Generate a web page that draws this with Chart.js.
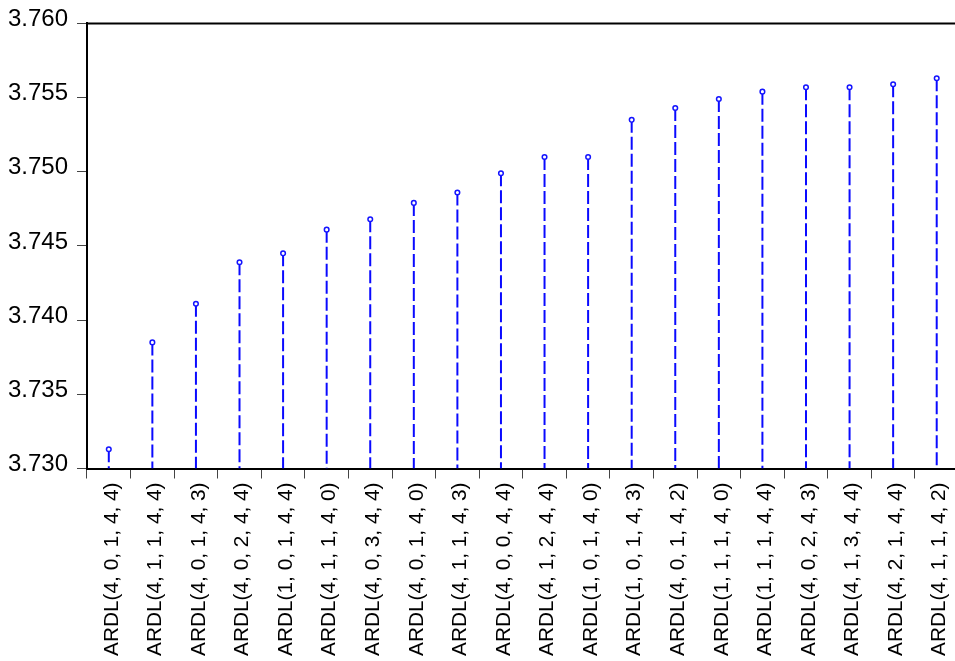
<!DOCTYPE html>
<html><head><meta charset="utf-8">
<script src="https://cdn.jsdelivr.net/npm/chart.js@4/dist/chart.umd.min.js"></script>
<style>html,body{margin:0;padding:0;background:#fff;overflow:hidden;width:955px;height:661px}#wrap{width:964px;height:661px;position:relative}</style>
</head><body><div id="wrap"><canvas id="c"></canvas></div>
<script>
const categories = [
  "ARDL(4, 0, 1, 4, 4)", "ARDL(4, 1, 1, 4, 4)", "ARDL(4, 0, 1, 4, 3)", "ARDL(4, 0, 2, 4, 4)",
  "ARDL(1, 0, 1, 4, 4)", "ARDL(4, 1, 1, 4, 0)", "ARDL(4, 0, 3, 4, 4)", "ARDL(4, 0, 1, 4, 0)",
  "ARDL(4, 1, 1, 4, 3)", "ARDL(4, 0, 0, 4, 4)", "ARDL(4, 1, 2, 4, 4)", "ARDL(1, 0, 1, 4, 0)",
  "ARDL(1, 0, 1, 4, 3)", "ARDL(4, 0, 1, 4, 2)", "ARDL(1, 1, 1, 4, 0)", "ARDL(1, 1, 1, 4, 4)",
  "ARDL(4, 0, 2, 4, 3)", "ARDL(4, 1, 3, 4, 4)", "ARDL(4, 2, 1, 4, 4)", "ARDL(4, 1, 1, 4, 2)"
];
const criterionValues = [
  3.7313, 3.7385, 3.7411, 3.7439, 3.7445, 3.7461, 3.7468, 3.7479, 3.7486, 3.7499,
  3.7510, 3.7510, 3.7535, 3.7543, 3.7549, 3.7554, 3.7557, 3.7557, 3.7559, 3.7563
];
const yMin = 3.730;
const yMax = 3.760;
const yStep = 0.005;

const stemData = [];
categories.forEach((c, i) => {
  stemData.push({x: c, y: criterionValues[i]}, {x: c, y: yMin}, {x: c, y: null});
});
const pointData = categories.map((c, i) => ({x: c, y: criterionValues[i]}));

const topBorder = {
  id: 'topBorder',
  afterDraw(chart) {
    const {ctx, chartArea: a} = chart;
    ctx.save();
    ctx.strokeStyle = '#000';
    ctx.lineWidth = 2;
    ctx.beginPath();
    ctx.moveTo(a.left - 1, a.top);
    ctx.lineTo(a.right, a.top);
    ctx.stroke();
    ctx.restore();
  }
};

new Chart(document.getElementById('c'), {
  type: 'line',
  data: {
    labels: categories,
    datasets: [
      {
        data: pointData, order: 0, showLine: false,
        pointRadius: 2.3, pointBorderWidth: 1.5,
        pointBackgroundColor: '#fff', pointBorderColor: '#1414ff', pointStyle: 'circle'
      },
      {
        data: stemData, order: 1, spanGaps: false,
        borderColor: '#0a0aff', borderWidth: 2, borderDash: [13, 4],
        pointRadius: 0, fill: false, tension: 0
      }
    ]
  },
  options: {
    responsive: true, maintainAspectRatio: false, animation: false, devicePixelRatio: 1,
    layout: {padding: {top: 22, right: 0, bottom: 0, left: 0}},
    plugins: {legend: {display: false}, tooltip: {enabled: false}},
    scales: {
      x: {
        type: 'category', offset: true,
        grid: {offset: true, drawOnChartArea: false, drawTicks: true, tickLength: 10, color: '#444', lineWidth: 1},
        border: {display: true, color: '#000', width: 2},
        ticks: {
          autoSkip: false, maxRotation: 90, minRotation: 90, padding: 4, labelOffset: 3, color: '#000',
          font: {family: "'Liberation Sans', Arial, sans-serif", size: 20.8}
        },
        afterFit(s) { s.height = 192.5; s.paddingRight = 0; s.paddingLeft = 0; }
      },
      y: {
        min: yMin, max: yMax,
        ticks: {
          stepSize: yStep, callback: v => Number(v).toFixed(3), color: '#000', padding: 9, labelOffset: -4,
          font: {family: "'Liberation Sans', Arial, sans-serif", size: 24}
        },
        grid: {drawOnChartArea: false, drawTicks: true, tickLength: 10, color: '#444', lineWidth: 1},
        border: {display: true, color: '#000', width: 2},
        afterFit(s) { s.width = 87; }
      }
    }
  },
  plugins: [topBorder]
});
</script>
</body></html>
